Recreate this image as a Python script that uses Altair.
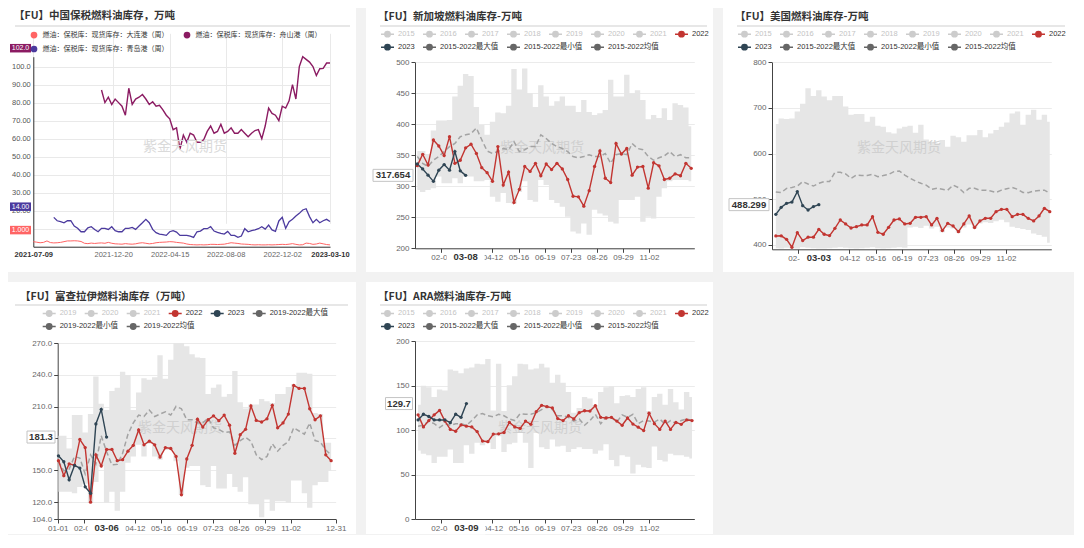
import json
import altair as alt
import pandas as pd

FONT = "Noto Sans CJK SC"
NFONT = "Liberation Sans, Noto Sans CJK SC"
BG = "#f2f2f2"
RED = "#c23531"
NAVY = "#2f4554"
WATERMARK = "紫金天风期货"

# ---------------- Panel 1 : China bonded stocks ----------------
P1_TITLE = "【FU】中国保税燃料油库存，万吨"
P1_SERIES = ["燃油：保税库：现货库存：大连港（周）",
             "燃油：保税库：现货库存：舟山港（周）",
             "燃油：保税库：现货库存：青岛港（周）"]
P1_COLORS = ["#ff6464", "#8b1b62", "#4b3a9e"]
P1_FIRST = "2021-07-09"
P1_LAST = "2023-03-10"
P1_TICKS = ["2021-07-09", "2021-12-20", "2022-04-15", "2022-08-08", "2022-12-02", "2023-03-10"]
P1_YTICKS = [0, 10, 20, 30, 40, 50, 60, 70, 80, 90, 100]

dalian = [2.8, 2.5, 2.2, 2.4, 3.2, 2.3, 2.1, 2.2, 2.4, 2.8,
          3.2, 3.2, 3.3, 3.2, 2.9, 1.9, 1.7, 2.0, 1.8, 2.0,
          2.1, 1.9, 2.4, 1.9, 1.6, 1.5, 1.4, 1.7, 1.5, 1.4,
          1.6, 2.0, 2.2, 1.9, 1.6, 1.8, 2.2, 2.4, 2.5, 2.6,
          2.8, 2.7, 2.4, 2.2, 2.0, 1.5, 1.2, 1.1, 1.0, 1.1,
          1.0, 1.1, 1.3, 1.3, 1.2, 1.3, 1.4, 1.8, 2.2, 2.0,
          1.8, 1.5, 1.4, 1.3, 1.1, 1.0, 1.1, 1.0, 1.0, 1.1,
          1.0, 1.1, 1.2, 1.3, 1.2, 1.4, 1.7, 1.3, 1.0, 1.1,
          2.0, 1.8, 1.3, 1.5, 2.0, 1.6, 1.2, 1.0]
zhoushan = [87, 80, 83, 79, 82, 80, 78, 73, 88, 79,
            82, 83, 84.5, 82, 79, 80.5, 78, 78.5, 76, 73,
            71, 65, 66, 54, 62, 58, 63, 62, 58, 58,
            59.5, 64, 67, 63, 64, 68, 63, 64, 66, 63,
            63, 65, 63, 61, 63, 64.5, 65, 60, 67, 77,
            74, 73, 70, 78, 77, 81, 90, 82, 100, 105.5,
            104, 102.5, 100, 95, 98.8, 99, 102, 102]
qingdao = [16.3, 14.4, 13.9, 13.3, 14.4, 14.4, 11.5, 10.2, 8.3, 8.3,
           10.5, 11.1, 9.6, 8.3, 10.2, 10.2, 9.6, 11.1, 8.9, 8.3,
           8.3, 10.2, 10.2, 10.7, 9.6, 11.5, 13.3, 15.2, 13.3, 9.6,
           7.8, 7.0, 6.7, 6.3, 8.3, 8.9, 8.1, 6.3, 6.3, 6.3,
           5.9, 5.2, 8.3, 8.7, 10.0, 10.0, 11.1, 8.7, 7.9, 7.4,
           7.0, 8.5, 6.3, 6.3, 5.2, 5.9, 10.0, 8.3, 8.9, 9.3,
           10.0, 11.1, 9.8, 12.0, 9.3, 8.5, 14.3, 16.3, 10.2, 13.9,
           15.2, 17.0, 18.5, 20.4, 21.1, 16.7, 13.3, 15.2, 13.3, 14.4,
           15.2, 14.0]

# ---------------- seasonal panels ----------------
ROW1_A = ["2015", "2016", "2017", "2018", "2019", "2020", "2021", "2022"]
ROW2_A = ["2023", "2015-2022最大值", "2015-2022最小值", "2015-2022均值"]
ROW1_B = ["2019", "2020", "2021", "2022", "2023", "2019-2022最大值"]
ROW2_B = ["2019-2022最小值", "2019-2022均值"]
TICKS_A = ["02-04", "04-12", "05-16", "06-19", "07-23", "08-26", "09-29", "11-02"]
TICKS_B = ["01-01", "02-04", "04-12", "05-16", "06-19", "07-23", "08-26", "09-29", "11-02", "12-31"]

# Singapore
sg_title = "【FU】新加坡燃料油库存-万吨"
sg_2022 = [333.3, 351.6, 334.4, 374.7, 365, 349.5, 380.1, 337, 342, 362,
           368, 353, 330, 322, 308, 364, 302, 323, 274, 295,
           332, 324, 337, 317, 336, 327, 337, 328, 311, 284,
           283, 268, 293, 332, 357, 313, 306, 369, 352, 361,
           318, 331, 332, 297, 338, 333, 311, 313, 320, 317,
           337, 329]
sg_2023 = [336, 328, 318, 308, 326, 335, 326, 356, 325, 317.654]
sg_avg = [348, 337, 332, 342, 348, 356, 364, 369, 380, 383,
          385, 394, 375, 357, 353, 356, 361, 359, 372, 356,
          359, 364, 364, 383, 377, 369, 364, 361, 356, 348,
          346, 348, 351, 348, 348, 353, 337, 351, 353, 351,
          369, 361, 359, 348, 342, 346, 349, 356, 348, 351,
          346, 346]
sg_max = [357, 357, 352, 390, 406, 406, 407, 445, 462, 481,
          478, 428, 399, 383, 404, 419, 418, 430, 489, 456,
          490, 450, 428, 463, 445, 430, 437, 445, 430, 430,
          420, 439, 420, 415, 418, 423, 472, 445, 445, 480,
          450, 455, 439, 408, 415, 410, 426, 407, 434, 431,
          427, 397]
sg_min = [294, 291, 294, 297, 316, 305, 305, 313, 305, 316,
          316, 308, 308, 310, 283, 275, 289, 273, 272, 291,
          308, 278, 275, 310, 302, 278, 273, 267, 251, 227,
          224, 240, 222, 262, 256, 253, 243, 240, 278, 278,
          278, 283, 243, 251, 248, 283, 297, 308, 310, 310,
          310, 308]

# USA
us_title = "【FU】美国燃料油库存-万吨"
us_2022 = [419.7, 420, 412.4, 395, 427, 409.5, 417, 417, 434.3, 423.4,
           420.5, 436.5, 454.7, 446, 437.2, 440, 443.8, 443.8, 462, 427.7,
           423.4, 438.7, 454.7, 457, 446, 447.4, 460.6, 460.6, 462, 443.8,
           458.4, 431.4, 447.4, 441.6, 429.2, 446, 463.5, 438, 452.6, 458.4,
           458.4, 473, 478, 478, 462, 467, 467, 458.4, 452.6, 463.5,
           480.3, 473]
us_2023 = [467, 482.5, 491.2, 494, 516.8, 486, 476.6, 484, 488.299]
us_avg = [516, 514.6, 524, 526, 529, 538.7, 533.6, 529, 535, 538.7,
          538.7, 559, 559, 555.5, 546, 553, 552, 552, 554.7, 549.6,
          552, 554.7, 560.6, 562, 553, 546, 540, 535, 531, 521.9,
          524, 522, 520, 531, 525.5, 514.6, 524, 524, 520, 520,
          518, 515, 520, 523, 526, 522, 515, 514.6, 518, 519,
          520, 513]
us_max = [665, 677, 676, 677, 692, 709, 743, 726, 739, 725,
          717, 726, 726, 703, 685, 687, 687, 670, 681, 661,
          659, 647, 644, 655, 659, 661, 646, 663, 631, 626,
          623, 630, 615, 639, 636, 626, 640, 640, 652, 636,
          644, 652, 659, 668, 688, 692, 663, 685, 696, 674,
          685, 670]
us_min = [393, 392, 394, 393, 392, 395, 394, 393, 392, 392,
          393, 394, 395, 394, 393, 392, 393, 394, 395, 393,
          392, 393, 394, 395, 394, 438, 440, 437, 442, 436,
          440, 428, 438, 436, 427, 438, 445, 436, 447, 450,
          448, 452, 455, 450, 440, 437, 435, 433, 425, 422,
          418, 405]

# Fujairah
fj_title = "【FU】富查拉伊燃料油库存（万吨）"
fj_2022 = [159, 144.9, 156, 154.8, 179, 171.4, 119.9, 164.5, 154, 169.6,
           169.6, 159, 160, 168, 173.5, 188, 174, 177.4, 174, 162.4,
           171.4, 170.5, 163, 126.8, 160.6, 173.5, 198.2, 190.7, 197.6, 201.3,
           196.7, 202, 192.5, 166, 183.5, 188.6, 210.6, 197, 195.5, 198.5,
           211.2, 190, 194.6, 203, 230, 227.2, 227.2, 208, 197.6, 201.3,
           164.5, 159]
fj_2023 = [163.6, 158, 141, 154.5, 152, 134.3, 128.3, 193.7, 207.3, 181.3]
fj_avg = [158.5, 149.4, 151, 163, 161.5, 146.4, 164.5, 156, 182.6, 167.5,
          155, 155.5, 166, 184, 194.6, 202, 200.7, 206.7, 200.7, 203,
          205, 202, 210.3, 208, 197.6, 197.6, 194.6, 194.6, 199, 190,
          188.6, 185.6, 186.2, 173.5, 178, 181, 177.4, 164.5, 160, 163,
          175, 168, 173.5, 177, 190, 187, 184, 194.6, 178, 176.5,
          169, 164.5]
fj_max = [182.6, 182.6, 170.5, 202, 202, 185.6, 203, 238.3, 212.7, 206.7,
          224.8, 227.8, 242.9, 239.9, 206.7, 223.3, 236.8, 235.3, 237.7, 258.5,
          236.2, 254.3, 270, 270, 267, 259.4, 256.4, 255.8, 221.8, 227.8,
          230.8, 219.4, 221.8, 243.5, 214.2, 208.2, 212.1, 212.1, 217.2, 215,
          213.3, 221.8, 221.8, 228.4, 231, 242, 242, 241, 204, 203,
          176, 176]
fj_min = [129.8, 129.8, 129.8, 128.3, 134.3, 137.3, 119, 138.9, 154, 119.3,
          129.8, 111.7, 129.8, 157, 163, 174, 163, 175, 163, 160,
          169, 169, 158.5, 126.8, 152.4, 154, 154, 135.8, 134.3, 154,
          132.8, 132.8, 146.4, 134.3, 129.8, 143.4, 117.8, 117.8, 105.7, 122.3,
          111.7, 120.8, 120.8, 119.3, 140.4, 140.4, 128.3, 114.7, 135.8, 138.9,
          138.9, 149.4]

# ARA
ara_title = "【FU】ARA燃料油库存-万吨"
ara_2022 = [117, 103.5, 110.6, 117, 122, 110, 100.7, 98.6, 105.7, 104.3,
            103.5, 98.2, 87.6, 86.9, 95.4, 95.7, 97.2, 108.5, 103.5, 101.8,
            110, 106.4, 120.6, 127.7, 126.2, 124.8, 112.8, 110.6, 116, 112.4,
            119.5, 121.6, 121.3, 127.3, 114.2, 113.5, 114.2, 110, 105.3, 113.5,
            106.7, 103.2, 99.3, 118.8, 107.1, 100.7, 110, 100.7, 108.5, 106.4,
            111.3, 110.6]
ara_2023 = [111.3, 117.7, 115.2, 111.3, 111.3, 111.3, 108.2, 117.7, 114.2, 129.7]
ara_avg = [104.3, 105.3, 110, 107.1, 102.8, 107.1, 105.3, 107.1, 107.1, 105.3,
           110.6, 117, 118.4, 116, 114.9, 117.7, 116, 112.4, 110.6, 118.4,
           117.7, 117.7, 119.5, 123, 126.6, 123, 116, 116, 114.2, 110,
           112.4, 105.3, 110.6, 117.7, 107.1, 114.2, 114.2, 108.9, 117, 114.2,
           117.7, 107.1, 110.6, 110, 108.9, 112.4, 106.4, 110.6, 107.1, 110.6,
           112.4, 110.6]
ara_max = [128.4, 149.6, 147.9, 137.2, 145.4, 144.3, 168.1, 166.7, 163.8, 169.1,
           170.2, 174.5, 173.8, 179.8, 122, 174.5, 121.3, 150.4, 160.3, 174.5,
           173.8, 168.1, 169.1, 174.5, 170.2, 153.2, 162, 153.2, 142.6, 119.5,
           124.8, 137.2, 135.5, 128, 142.6, 147.9, 148.9, 130.1, 138.3, 139,
           137.2, 146.1, 147.9, 121.3, 137.2, 140.8, 128.4, 146.1, 131.2, 123,
           142.6, 137.2]
ara_min = [77, 73.4, 71.6, 62.8, 69.9, 69.9, 78, 62.8, 62.8, 83,
           73.4, 85.8, 83, 85.8, 78.7, 92.9, 75.2, 84, 85.8, 96.5,
           85.8, 57.4, 96.5, 80.5, 78.7, 89.4, 81.6, 82.3, 75.2, 78.7,
           80.5, 78.7, 78.7, 73.4, 77, 84, 66.3, 59.2, 71.6, 69.9,
           51.1, 61, 58.2, 57.4, 81.6, 66.3, 64.5, 73.4, 71.6, 71.6,
           69.9, 68.1]


# ---------------- helpers ----------------
def ms(s):
    return int(pd.Timestamp(s, tz="UTC").timestamp() * 1000)


def weekly(start, n):
    return [d.strftime("%Y-%m-%d") for d in pd.date_range(start, periods=n, freq="7D")]


def box_path(w, h):
    r = h / w
    return f"M-1,{-r:.4f}H1V{r:.4f}H-1Z", w * w


def item_color(it):
    if it == "2022":
        return RED
    if it == "2023":
        return NAVY
    if it.isdigit():
        return "#cccccc"
    return "#666666"


def label_color(it):
    if it.isdigit() and int(it) < 2022:
        return "#c4c4c4"
    return "#333333"


def js_map(d, key):
    return "(" + json.dumps(d, ensure_ascii=False) + ")[" + key + "]"


LEG_PATH = ("M-1,0H-0.42M0.42,0H1M0.42,0A0.42,0.42,0,1,1,-0.42,0"
            "A0.42,0.42,0,1,1,0.42,0Z")


def text_layer(text, x, y, size, color, weight="normal", align="left", font=FONT):
    return alt.Chart(pd.DataFrame({"t": [text]})).mark_text(
        font=font, fontSize=size, color=color, fontWeight=weight,
        align=align, baseline="middle"
    ).encode(x=alt.value(x), y=alt.value(y), text="t:N")


def rule_layer(x1, x2, y):
    return alt.Chart(pd.DataFrame({"t": [0]})).mark_rule(
        color="#cfcfcf", strokeWidth=1
    ).encode(x=alt.value(x1), x2=alt.value(x2), y=alt.value(y))


def seasonal_legend(items, x, y, with_fill_expr):
    kw = dict(
        orient="none", legendX=x, legendY=y, direction="horizontal", title=None,
        symbolType=LEG_PATH, symbolSize=169, symbolStrokeWidth=1.4,
        symbolStrokeColor=alt.ExprRef(js_map({i: item_color(i) for i in items}, "datum.value")),
        labelColor=alt.ExprRef(js_map({i: label_color(i) for i in items}, "datum.label")),
        labelFontSize=7.5, labelFont=NFONT, labelOffset=3, columnPadding=5, padding=0,
    )
    if with_fill_expr:
        kw["symbolFillColor"] = alt.ExprRef(js_map({i: item_color(i) for i in items}, "datum.value"))
    return alt.Legend(**kw)


# ---------------- Panel 1 ----------------
W1, H1 = 348, 264
p1_dates = [d.strftime("%Y-%m-%d") for d in pd.date_range(P1_FIRST, P1_LAST, freq="7D")]
rows = []
for name, vals in zip(P1_SERIES, [dalian, zhoushan, qingdao]):
    ds = p1_dates[-len(vals):]
    rows += [{"date": d, "series": name, "v": v} for d, v in zip(ds, vals)]
df1 = pd.DataFrame(rows)
last1 = df1.groupby("series", sort=False).tail(1)

x1r = [25.3, 322.0]
y1r = [238.7, 48.7]
cs1 = alt.Scale(domain=P1_SERIES, range=P1_COLORS)
edge_test = f"datum.value <= {ms(P1_FIRST)} || datum.value >= {ms(P1_LAST)}"
ax1x = alt.Axis(
    values=[ms(t) for t in P1_TICKS], format="%Y-%m-%d", offset=-(H1 - y1r[0]),
    title=None, ticks=False, grid=True, gridColor="#e9e9e9", domainColor="#333333",
    labelFontSize=7.5, labelFont=NFONT, labelPadding=4, labelOverlap=False,
    labelFlush=False,
    labelColor=alt.ExprRef(f"{edge_test} ? '#333333' : '#666666'"),
    labelFontWeight=alt.ExprRef(f"{edge_test} ? 'bold' : 'normal'"),
)
ax1y = alt.Axis(
    values=P1_YTICKS, format=".4r", labelExpr="datum.value == 0 ? '' : datum.label",
    offset=-x1r[0], title=None, ticks=False, grid=True, gridColor="#e9e9e9",
    domainColor="#333333", labelFontSize=7.5, labelColor="#555555", labelFont=NFONT,
    labelPadding=3, labelFlush=False,
)
X1 = alt.X("date:T", scale=alt.Scale(type="utc", domain=[ms(P1_FIRST), ms(P1_LAST)], range=x1r), axis=ax1x)
Y1 = alt.Y("v:Q", scale=alt.Scale(domain=[0, 105.5], range=y1r, nice=False, zero=False), axis=ax1y)

leg1 = alt.Legend(
    orient="none", legendX=22.5, legendY=23.5, columns=2, direction="horizontal",
    title=None, symbolType="circle", symbolSize=45, symbolStrokeWidth=0,
    labelFontSize=7, labelFont=FONT,
    labelColor="#333333", labelOffset=5, columnPadding=15, rowPadding=6, padding=0,
)
bp1, bs1 = box_path(21, 8.5)
p1_layers = []
for name, col, sw in zip(P1_SERIES, P1_COLORS, [1.0, 1.4, 1.3]):
    p1_layers.append(
        alt.Chart(df1[df1["series"] == name]).mark_line(strokeWidth=sw, color=col).encode(x=X1, y=Y1)
    )
p1 = alt.layer(
    *p1_layers,
    text_layer(WATERMARK, 177, 139, 14, "#dadada", align="center"),
    alt.Chart(last1).mark_point(shape=bp1, size=bs1, filled=True, opacity=1, yOffset=-14.8).encode(
        x=alt.value(12.5), y=Y1, fill=alt.Fill("series:N", scale=cs1, legend=leg1)),
    alt.Chart(last1).mark_text(font=NFONT, fontSize=7, color="white", yOffset=-14.8).encode(
        x=alt.value(12.5), y=Y1, text=alt.Text("v:Q", format=".4r")),
    text_layer(P1_TITLE, 6, 8, 10.5, "#333333", weight="bold"),
    rule_layer(7, 342, 18),
).properties(width=W1, height=H1)


# ---------------- seasonal panel builder ----------------
def year_panel(title, row1, row2, start, v22, v23, vmax, vmin, vavg, W, H, xr, yr, ydom,
               yticks, yfmt, xticks, leg_xy, title_xy, sep, wm_xy,
               ybox_w, ybox_cx, ybox_fmt):
    d22 = weekly(start, len(v22))
    ser = pd.DataFrame({
        "date": d22 + d22[:len(v23)],
        "series": ["2022"] * len(v22) + ["2023"] * len(v23),
        "v": list(v22) + list(v23),
    })
    band = pd.DataFrame({"date": weekly(start, len(vmax)), "max": vmax, "min": vmin})
    avg_name = row2[-1]
    avg = pd.DataFrame({"date": weekly(start, len(vavg)), "avg": vavg, "series": avg_name})
    s22 = ser[ser["series"] == "2022"]
    s23 = ser[ser["series"] == "2023"]
    last = s23.tail(1).copy()
    last["lab"] = pd.to_datetime(last["date"]).dt.strftime("%m-%d")

    xsc = alt.Scale(type="utc", domain=[ms("2022-01-01"), ms("2022-12-31")], range=list(xr))
    ysc = alt.Scale(domain=list(ydom), range=list(yr), nice=False, zero=False)
    xax = alt.Axis(
        values=[ms("2022-" + t) for t in xticks], format="%m-%d", offset=-(H - yr[0]),
        title=None, grid=False, domainColor="#444444", tickColor="#444444", tickSize=4,
        labelFontSize=8, labelColor="#666666", labelFont=NFONT, labelPadding=1,
        labelOverlap=False, labelFlush=False,
    )
    yax = alt.Axis(
        values=list(yticks), format=yfmt, offset=-xr[0], title=None, grid=True,
        gridColor="#ebebeb", domainColor="#444444", tickColor="#444444", tickSize=4,
        labelFontSize=8, labelColor="#666666", labelFont=NFONT, labelPadding=2,
        labelFlush=False,
    )
    X = alt.X("date:T", scale=xsc, axis=xax)
    Yv = alt.Y("v:Q", scale=ysc, axis=yax)
    Ya = alt.Y("avg:Q", scale=ysc, axis=yax)

    fill_scale = alt.Scale(domain=row1, range=[item_color(i) for i in row1])
    legA = seasonal_legend(row1, leg_xy[0], leg_xy[1], False)
    legB = seasonal_legend(row2, leg_xy[0], leg_xy[1] + 13, True)
    op_scale = alt.Scale(domain=row2, range=[1.0 for _ in row2])

    ybp, ybs = box_path(ybox_w, 12)
    xbp, xbs = box_path(38, 13)

    pts_src = ser if "2023" in row1 else s22
    layers = [
        alt.Chart(band).mark_area(interpolate="step", color="#e6e6e6").encode(
            x=X, y=alt.Y("max:Q", scale=ysc, axis=yax), y2="min:Q"),
        text_layer(WATERMARK, wm_xy[0], wm_xy[1], 14, "#d0d0d0", align="center"),
        alt.Chart(avg).mark_line(color="#a3a3a3", strokeDash=[5, 3], strokeWidth=1.5).encode(x=X, y=Ya),
        alt.Chart(s22).mark_line(strokeWidth=1.4, color=RED).encode(x=X, y=Yv),
    ]
    if "2023" in row2:
        layers.append(alt.Chart(s23).mark_line(strokeWidth=1.4, color=NAVY).encode(
            x=X, y=Yv, opacity=alt.Opacity("series:O", scale=op_scale, legend=legB)))
    else:
        layers.append(alt.Chart(s23).mark_line(strokeWidth=1.4, color=NAVY).encode(x=X, y=Yv))
        # single-point carrier for the second legend row (draws nothing)
        layers.append(alt.Chart(avg.head(1)).mark_line(strokeWidth=1.4, color="#666666").encode(
            x=X, y=Ya, opacity=alt.Opacity("series:O", scale=op_scale, legend=legB)))
    layers.append(alt.Chart(pts_src).mark_point(filled=True, size=11, opacity=1).encode(
        x=X, y=Yv, fill=alt.Fill("series:N", scale=fill_scale, legend=legA)))
    if "2023" not in row1:
        layers.append(alt.Chart(s23).mark_point(filled=True, size=11, opacity=1, color=NAVY).encode(x=X, y=Yv))
    layers += [
        alt.Chart(last).mark_point(shape=ybp, size=ybs, filled=True, fill="white",
                                   stroke="#c4c4c4", strokeWidth=1, opacity=1).encode(x=alt.value(ybox_cx), y=Yv),
        alt.Chart(last).mark_text(font=NFONT, fontSize=9.5, fontWeight="bold", color="#333333").encode(
            x=alt.value(ybox_cx), y=Yv, text=alt.Text("v:Q", format=ybox_fmt)),
        alt.Chart(last).mark_point(shape=xbp, size=xbs, filled=True, fill="white",
                                   strokeWidth=0, opacity=1).encode(x=X, y=alt.value(yr[0] + 9)),
        alt.Chart(last).mark_text(font=NFONT, fontSize=9.5, fontWeight="bold", color="#333333").encode(
            x=X, y=alt.value(yr[0] + 9), text="lab:N"),
        text_layer(title, title_xy[0], title_xy[1], 10.5, "#333333", weight="bold"),
        rule_layer(sep[0], sep[1], sep[2]),
    ]
    return alt.layer(*layers).properties(width=W, height=H)


W2, W3, H2 = 347, 351, 252
p2 = year_panel(sg_title, ROW1_A, ROW2_A, "2022-01-04", sg_2022, sg_2023, sg_max, sg_min, sg_avg,
                W2, H1, (49, 328.3), (240.3, 54.3), (200, 500), [200, 250, 300, 350, 400, 450, 500], "d",
                TICKS_A, (14, 18.2), (12, 9.3), (14, 341, 18), (176, 140), 40, 27, ".3f")
p3 = year_panel(us_title, ROW1_A, ROW2_A, "2022-01-06", us_2022, us_2023, us_max, us_min, us_avg,
                W3, H1, (49, 328.3), (241.3, 54.3), (390.5, 800), [400, 500, 600, 700, 800], "d",
                TICKS_A, (14, 18.2), (12, 9.3), (14, 342, 18), (176, 140), 40, 26, ".3f")
p4 = year_panel(fj_title, ROW1_B, ROW2_B, "2022-01-02", fj_2022, fj_2023, fj_max, fj_min, fj_avg,
                W1, H2, (49.7, 327.7), (237, 61), (104, 270), [104, 120, 150, 180, 210, 240, 270], ".1f",
                TICKS_B, (33.7, 23.5), (12, 15), (7, 340, 23), (172, 146), 28, 33, ".1f")
p5 = year_panel(ara_title, ROW1_A, ROW2_A, "2022-01-05", ara_2022, ara_2023, ara_max, ara_min, ara_avg,
                W2, H2, (49, 328.3), (237, 59), (0, 200), [0, 50, 100, 150, 200], "d",
                TICKS_A, (14, 23.5), (12, 15), (14, 341, 23), (174, 146), 27, 33, ".1f")

chart = alt.concat(p1, p2, p3, p4, p5, columns=3, spacing=10, bounds="flush").resolve_scale(
    x="independent", y="independent", fill="independent", opacity="independent"
).resolve_legend(fill="independent", opacity="independent").configure(
    background=BG, padding=0, font=FONT
).configure_view(stroke=None, fill="white")

chart.save("out.html", embed_options={"renderer": "svg", "actions": False})
